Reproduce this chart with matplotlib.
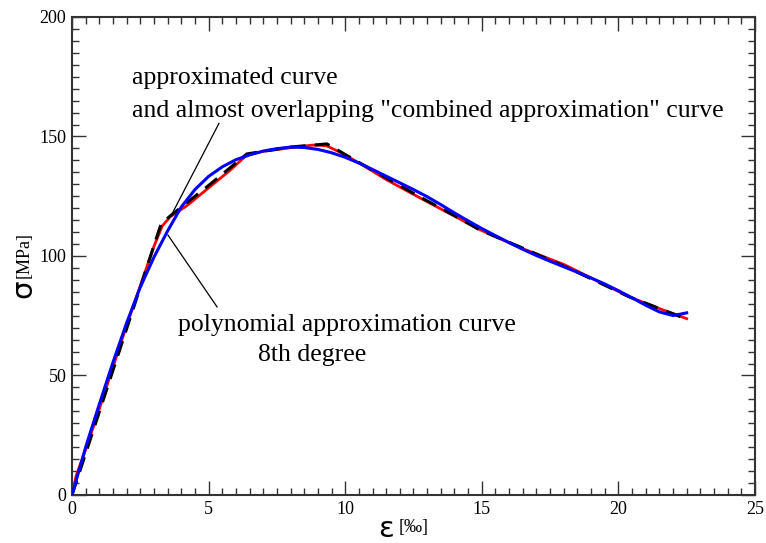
import numpy as np
import matplotlib
matplotlib.use('Agg')
import matplotlib.pyplot as plt
from matplotlib.ticker import MultipleLocator

# courbe approchée (polyligne noire)
eps_approx = [0, 3.26, 3.59, 5.0, 6.4, 8.0, 9.33, 10.54, 12.74, 13.95, 14.93, 16.4, 18.2, 20.42, 22.5]
sig_approx = [0, 113.4, 116.7, 129.5, 142.7, 145.6, 146.9, 138.9, 124.7, 117.2, 110.9, 103.8, 94.8, 82.8, 73.6]

# approximation combinée (rouge)
eps_comb = [0, 0.15, 0.5, 1, 2, 3, 3.3, 3.6, 4.2, 5, 5.8, 6.4, 7, 8, 8.8, 9.3, 9.8, 10.54,
            11.5, 12.74, 13.95, 14.93, 16.4, 18, 19.5, 20.42, 21.5, 22.5]
sig_comb = [0, 8, 19, 36, 71, 104, 112.5, 116.5, 121, 128.5, 136, 142.3, 143.8, 145.3, 146.4,
            146.2, 143.5, 138.7, 132, 124.3, 117, 111, 103.5, 96.5, 88, 82.8, 78, 73.8]

# polynome degré 8 (bleu)
eps_poly = [0, 0.5, 1, 1.5, 2, 2.5, 3, 3.5, 4, 4.5, 5, 5.5, 6, 6.5, 7, 7.5, 8, 8.5, 9, 9.5,
            10, 10.5, 11, 11.5, 12, 12.5, 13, 13.5, 14, 14.5, 15, 15.5, 16, 16.5, 17, 17.5,
            18, 18.5, 19, 19.5, 20, 20.5, 21, 21.5, 22, 22.5]
sig_poly = [0, 20, 38, 55.5, 72, 87, 99.5, 110.5, 120.5, 127.8, 133.3, 137.3, 140.3, 142.3, 143.9, 144.9,
            145.6, 145.4, 144.6, 143.2, 141.3, 138.9, 136.2, 133.4, 130.6, 127.8, 124.8, 121.5,
            118, 114.7, 111.5, 108.5, 105.6, 102.8, 100.2, 97.8, 95.5, 93.2, 90.8, 88.3, 85.5,
            82.5, 79.4, 76.6, 75.1, 76.2]

plt.rcParams['font.family'] = ['Liberation Serif', 'DejaVu Serif']

fig = plt.figure(figsize=(7.66, 5.43), dpi=100)
ax = fig.add_axes([0.094, 0.0884, 0.8916, 0.8803])

ax.plot(eps_comb, sig_comb, color='red', lw=2.0, zorder=2)
ax.plot(eps_approx, sig_approx, color='black', lw=2.2, dashes=(5, 3), zorder=3)
ax.plot(eps_poly, sig_poly, color='blue', lw=2.2, zorder=4)

ax.set_xlim(0, 25)
ax.set_ylim(0, 200)
ax.xaxis.set_major_locator(MultipleLocator(5))
ax.xaxis.set_minor_locator(MultipleLocator(0.5))
ax.yaxis.set_major_locator(MultipleLocator(50))
ax.yaxis.set_minor_locator(MultipleLocator(5))
ax.tick_params(which='both', direction='in', top=True, right=True, labelsize=13, width=1, color='#333333')
ax.tick_params(which='major', length=10, pad=4)
ax.tick_params(which='minor', length=5)
for s in ax.spines.values():
    s.set_linewidth(1.5)
    s.set_color('#333333')

# annotations
ax.text(2.2, 174.5, 'approximated curve', fontsize=18.5, va='center')
ax.text(2.2, 160.8, 'and almost overlapping "combined approximation" curve', fontsize=18.5, va='center')
ax.plot([3.66, 5.38], [117.6, 155.5], color='black', lw=0.9)
ax.text(3.87, 71, 'polynomial approximation curve', fontsize=18.5, va='center')
ax.text(6.8, 58.5, '8th degree', fontsize=18.5, va='center')
ax.plot([3.51, 5.31], [108.8, 78.7], color='black', lw=0.9)

# axis labels
fig.text(0.031, 0.468, 'σ', fontsize=21, family='DejaVu Sans', rotation=90, ha='center', va='center')
fig.text(0.031, 0.530, '[MPa]', fontsize=13, rotation=90, ha='center', va='center')
fig.text(0.504, 0.026, 'ε', fontsize=21, family='DejaVu Sans', ha='center', va='center')
fig.text(0.540, 0.028, '[‰]', fontsize=13, ha='center', va='center')

fig.savefig('out.png', dpi=100)
